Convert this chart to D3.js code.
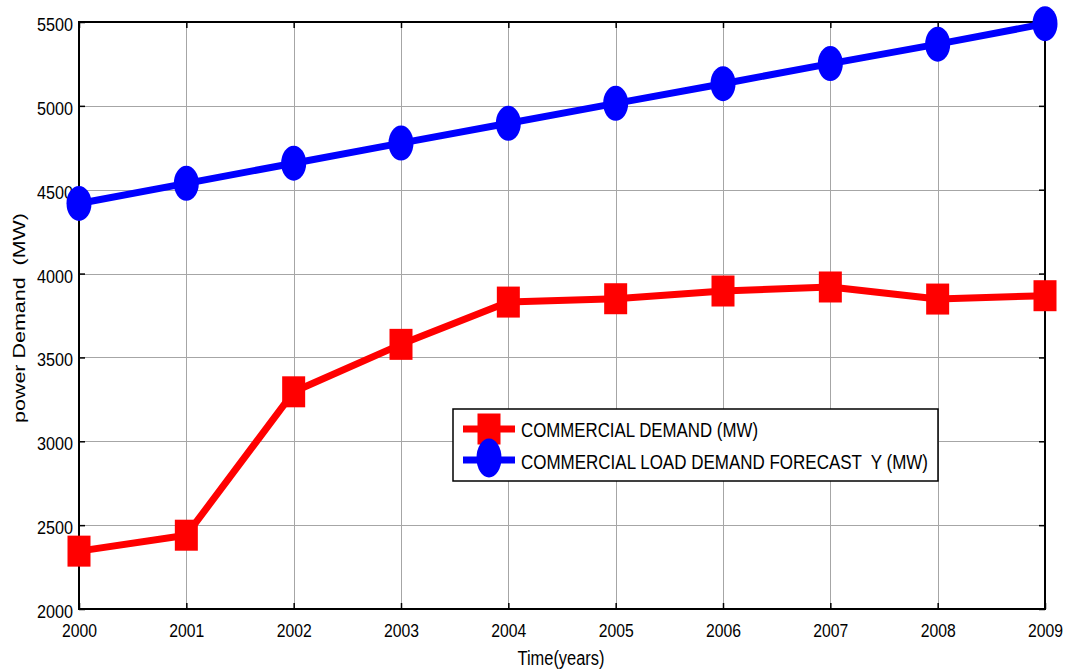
<!DOCTYPE html>
<html>
<head>
<meta charset="utf-8">
<script src="https://cdn.jsdelivr.net/npm/d3@7"></script>
<style>
  html, body { margin: 0; padding: 0; background: #fff; }
  svg { display: block; font-family: "Liberation Sans", Arial, sans-serif; }
  text { white-space: pre; }
</style>
</head>
<body>
<svg id="chart" width="1065" height="671"></svg>
<script>
// Years on the horizontal axis
const years = [2000, 2001, 2002, 2003, 2004, 2005, 2006, 2007, 2008, 2009];
// Actual commercial demand (MW)
const commercialDemand = [2345, 2440, 3295, 3578, 3830, 3850, 3896, 3920, 3848, 3868];
// Forecast of commercial load demand (MW)
const forecastDemand = [4418, 4538, 4658, 4778, 4896, 5015, 5132, 5252, 5368, 5490];
// Tick labels
const yTicks = [2000, 2500, 3000, 3500, 4000, 4500, 5000, 5500];
const xTicks = years;

const seriesNames = ["COMMERCIAL DEMAND (MW)", "COMMERCIAL LOAD DEMAND FORECAST  Y (MW)"];

const svg = d3.select("#chart");

const x = d3.scaleLinear().domain([2000, 2009]).range([79, 1045]);
const y = d3.scaleLinear().domain([2000, 5500]).range([609, 22]);

// Fit a text element to a fixed width (narrow, tall lettering)
function fit(sel, w) {
  sel.attr("textLength", w).attr("lengthAdjust", "spacingAndGlyphs");
}

// Grid
const grid = svg.append("g").attr("stroke", "#a6a6a6").attr("stroke-width", 1);
grid.selectAll("line.v").data(xTicks).join("line")
  .attr("x1", d => Math.round(x(d)) + 0.5).attr("x2", d => Math.round(x(d)) + 0.5)
  .attr("y1", y.range()[1]).attr("y2", y.range()[0]);
grid.selectAll("line.h").data(yTicks).join("line")
  .attr("y1", d => Math.round(y(d)) + 0.5).attr("y2", d => Math.round(y(d)) + 0.5)
  .attr("x1", x.range()[0]).attr("x2", x.range()[1]);

// Axes (inward ticks on all four sides)
const tickLen = 6;
const axLeft = svg.append("g").attr("transform", `translate(${x.range()[0]},0)`)
  .call(d3.axisRight(y).tickValues(yTicks).tickSize(tickLen).tickFormat(""));
const axRight = svg.append("g").attr("transform", `translate(${x.range()[1]},0)`)
  .call(d3.axisLeft(y).tickValues(yTicks).tickSize(tickLen).tickFormat(""));
const axBottom = svg.append("g").attr("transform", `translate(0,${y.range()[0]})`)
  .call(d3.axisTop(x).tickValues(xTicks).tickSize(tickLen).tickFormat(""));
const axTop = svg.append("g").attr("transform", `translate(0,${y.range()[1]})`)
  .call(d3.axisBottom(x).tickValues(xTicks).tickSize(tickLen).tickFormat(""));
[axLeft, axRight, axBottom, axTop].forEach(g => {
  g.select(".domain").remove();
  g.selectAll(".tick line").attr("stroke", "#000").attr("stroke-width", 1.5);
});

// Box
svg.append("rect")
  .attr("x", x.range()[0]).attr("y", y.range()[1])
  .attr("width", x.range()[1] - x.range()[0]).attr("height", y.range()[0] - y.range()[1])
  .attr("fill", "none").attr("stroke", "#000").attr("stroke-width", 2);

// Tick labels
svg.append("g").selectAll("text").data(yTicks).join("text")
  .attr("x", 73).attr("y", d => y(d) + 9)
  .attr("text-anchor", "end").attr("font-size", 18.5).attr("fill", "#000")
  .text(d => d)
  .call(fit, 36);
svg.append("g").selectAll("text").data(xTicks).join("text")
  .attr("x", d => x(d) + 0.5).attr("y", 637)
  .attr("text-anchor", "middle").attr("font-size", 18.5).attr("fill", "#000")
  .text(d => d)
  .call(fit, 35);

// Axis titles
svg.append("text")
  .attr("x", 561).attr("y", 665).attr("text-anchor", "middle")
  .attr("font-size", 19.5).attr("fill", "#000")
  .text("Time(years)")
  .call(fit, 87);
svg.append("text")
  .attr("transform", "translate(25,318) rotate(-90)")
  .attr("text-anchor", "middle").attr("font-size", 16).attr("fill", "#000")
  .attr("textLength", 210).attr("lengthAdjust", "spacingAndGlyphs")
  .text("power Demand  (MW)");

// Series
const line = d3.line().x(d => x(d[0])).y(d => y(d[1]));
const redPts = years.map((yr, i) => [yr, commercialDemand[i]]);
const bluePts = years.map((yr, i) => [yr, forecastDemand[i]]);

const mW = 23, mH = 31, eRx = 12.5, eRy = 17.5;

svg.append("path").datum(redPts).attr("d", line)
  .attr("fill", "none").attr("stroke", "#ff0000").attr("stroke-width", 7).attr("stroke-linejoin", "round");
svg.append("g").selectAll("rect").data(redPts).join("rect")
  .attr("x", d => x(d[0]) - mW / 2).attr("y", d => y(d[1]) - mH / 2)
  .attr("width", mW).attr("height", mH).attr("fill", "#ff0000");

svg.append("path").datum(bluePts).attr("d", line)
  .attr("fill", "none").attr("stroke", "#0000ff").attr("stroke-width", 7).attr("stroke-linejoin", "round");
svg.append("g").selectAll("ellipse").data(bluePts).join("ellipse")
  .attr("cx", d => x(d[0])).attr("cy", d => y(d[1]))
  .attr("rx", eRx).attr("ry", eRy).attr("fill", "#0000ff");

// Legend
const lg = svg.append("g");
lg.append("rect").attr("x", 453).attr("y", 409).attr("width", 485).attr("height", 72)
  .attr("fill", "#fff").attr("stroke", "#000").attr("stroke-width", 1.5);
const rows = [
  { name: seriesNames[0], color: "#ff0000", shape: "rect", cy: 429, base: 437, w: 237 },
  { name: seriesNames[1], color: "#0000ff", shape: "ellipse", cy: 460, base: 469, w: 407 }
];
rows.forEach(r => {
  lg.append("line").attr("x1", 463).attr("x2", 515).attr("y1", r.cy).attr("y2", r.cy)
    .attr("stroke", r.color).attr("stroke-width", 7);
  if (r.shape === "rect") {
    lg.append("rect").attr("x", 489 - mW / 2).attr("y", r.cy - mH / 2)
      .attr("width", mW).attr("height", mH).attr("fill", r.color);
  } else {
    lg.append("ellipse").attr("cx", 489).attr("cy", r.cy - 2).attr("rx", eRx).attr("ry", eRy + 2)
      .attr("fill", r.color);
  }
  lg.append("text").attr("x", 521).attr("y", r.base).attr("font-size", 19.5).attr("fill", "#000")
    .text(r.name).call(fit, r.w);
});
</script>
</body>
</html>
